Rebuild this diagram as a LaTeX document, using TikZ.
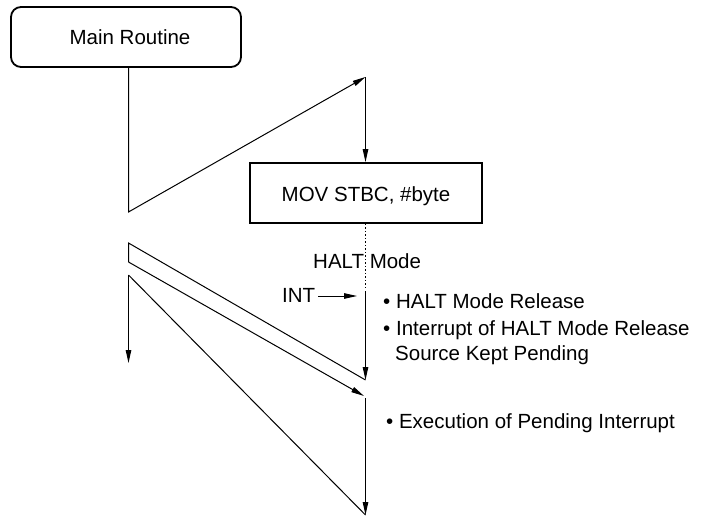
\documentclass[tikz,border=0pt]{standalone}
\usepackage{fontspec}
\setmainfont{Liberation Sans}
\usetikzlibrary{arrows.meta}
\begin{document}
\begin{tikzpicture}[x=1pt,y=-1pt,
  every node/.style={font=\fontsize{20.5}{24}\selectfont, inner sep=0pt},
  thinline/.style={line width=1pt},
  arr/.style={thinline,-{Triangle[length=13pt,width=5.5pt]}},
  boxstyle/.style={draw, line width=1.8pt, minimum width=230pt, minimum height=60pt},
  lbl/.style={anchor=base west}]
\useasboundingbox (0,0) rectangle (702,516);
% boxes
\node[boxstyle, rounded corners=10pt] (main) at (126,37) {};
\node[anchor=base] at (130,45) {Main Routine};
\node[boxstyle, minimum width=232pt] (mov) at (366,193) {};
\node[anchor=base] at (366,202) {MOV STBC, \#byte};
% coordinates
\coordinate (a) at (128.5,212);
\coordinate (b) at (365.5,77);
\coordinate (d1) at (365.5,289);
\coordinate (s1) at (365.5,291);
\coordinate (e1) at (365.5,380);
\coordinate (p1) at (128.5,243);
\coordinate (p2) at (128.5,262);
\coordinate (e2) at (364,396);
\coordinate (s3) at (365.5,398);
\coordinate (e3) at (365.5,515);
\coordinate (q) at (128.5,275);
\coordinate (q2) at (128.5,363);
\coordinate (i1) at (318,296);
\coordinate (i2) at (357,296);
% connectors
\draw[arr] (main.south -| a) -- (a) -- (b);
\draw[arr] (b) -- (b |- mov.north);
\draw[thinline, dash pattern=on 1.5pt off 2pt] (mov.south -| b) -- (d1);
\node[lbl] (halt) at (313,268) {HALT Mode};
\draw[arr] (s1) -- (e1);
\node[lbl] (int) at (282,302) {INT};
\draw[arr] (i1) -- (i2);
\draw[thinline] (e1) -- (p1) -- (p2);
\draw[arr] (p2) -- (e2);
\draw[arr] (s3) -- (e3);
\draw[arr] (q) -- (q2);
\draw[thinline] (q) -- (e3);
% texts
\node[lbl] (t1) at (383,308) {• HALT Mode Release};
\node[lbl] (t2) at (383,335) {• Interrupt of HALT Mode Release};
\node[lbl] (t3) at (395,360) {Source Kept Pending};
\node[lbl] (t4) at (386,428) {• Execution of Pending Interrupt};
\end{tikzpicture}
\end{document}
